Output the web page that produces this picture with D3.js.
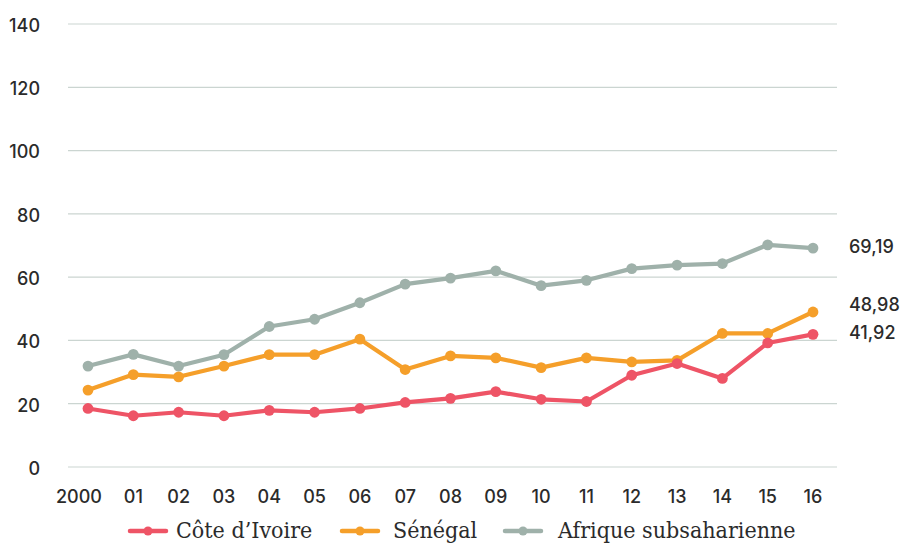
<!DOCTYPE html>
<html>
<head>
<meta charset="utf-8">
<script src="https://cdn.jsdelivr.net/npm/d3@7"></script>
<style>
  html, body { margin: 0; padding: 0; background: #fff; }
  svg { display: block; }
  .ytick, .xtick, .endlabel { font-family: Inter, "Open Sans", sans-serif; font-size: 18px; font-weight: 500; fill: #2b2b2b; }
  .legend { font-family: "DejaVu Serif Condensed", "DejaVu Serif", serif; font-stretch: condensed; font-size: 23px; fill: #2b2b2b; }
</style>
</head>
<body>
<svg id="chart" width="900" height="545"></svg>
<script>
// Years on the x axis and their printed labels
const years = [2000, 2001, 2002, 2003, 2004, 2005, 2006, 2007, 2008, 2009, 2010, 2011, 2012, 2013, 2014, 2015, 2016];
const yearLabels = ["2000", "01", "02", "03", "04", "05", "06", "07", "08", "09", "10", "11", "12", "13", "14", "15", "16"];
const yTicks = [0, 20, 40, 60, 80, 100, 120, 140];

// Series values
const coteDIvoire = [18.5, 16.2, 17.3, 16.2, 17.9, 17.3, 18.5, 20.4, 21.7, 23.8, 21.4, 20.7, 29.0, 32.7, 28.0, 39.2, 41.92];
const senegal = [24.3, 29.2, 28.5, 31.9, 35.5, 35.5, 40.4, 30.8, 35.1, 34.5, 31.4, 34.5, 33.2, 33.7, 42.2, 42.2, 48.98];
const afriqueSub = [31.9, 35.6, 31.9, 35.5, 44.4, 46.7, 51.9, 57.8, 59.7, 62.0, 57.3, 59.0, 62.7, 63.8, 64.3, 70.2, 69.19];

const seriesNames = ["Côte d’Ivoire", "Sénégal", "Afrique subsaharienne"];
const seriesColors = ["#ee5466", "#f59f2a", "#9fb1aa"];
const endLabels = ["41,92", "48,98", "69,19"];

const series = [coteDIvoire, senegal, afriqueSub].map((values, i) => ({
  name: seriesNames[i], color: seriesColors[i], label: endLabels[i], values
}));

const svg = d3.select("#chart");

const x = d3.scaleLinear().domain([2000, 2016]).range([88, 813]);
const y = d3.scaleLinear().domain([0, 140]).range([467, 24]);

// Horizontal gridlines
svg.append("g").selectAll("line").data(yTicks).join("line")
  .attr("x1", 68).attr("x2", 837)
  .attr("y1", d => y(d)).attr("y2", d => y(d))
  .attr("stroke", "#cbd5d1").attr("stroke-width", 1.2);

// Y tick labels
svg.append("g").selectAll("text").data(yTicks).join("text")
  .attr("class", "ytick")
  .attr("x", 40).attr("y", d => y(d) + 1.5)
  .attr("dy", "0.35em").attr("text-anchor", "end")
  .text(d => d);

// X tick labels (the full year is pulled left so it clears the next label)
svg.append("g").selectAll("text").data(years).join("text")
  .attr("class", "xtick")
  .attr("x", (d, i) => x(d) - (i === 0 ? 9 : 0)).attr("y", 496.5)
  .attr("dy", "0.35em")
  .attr("text-anchor", "middle")
  .text((d, i) => yearLabels[i]);

const line = d3.line().x((d, i) => x(years[i])).y(d => y(d));

// Lines and markers, grey first so the country lines sit on top
const drawOrder = [series[2], series[1], series[0]];
const g = svg.append("g");
drawOrder.forEach(s => {
  g.append("path").datum(s.values)
    .attr("fill", "none").attr("stroke", s.color)
    .attr("stroke-width", 4.2).attr("stroke-linejoin", "round")
    .attr("d", line);
  g.append("g").selectAll("circle").data(s.values).join("circle")
    .attr("cx", (d, i) => x(years[i])).attr("cy", d => y(d))
    .attr("r", 5.4).attr("fill", s.color);
});

// End-of-line value labels; a label too close to the one below moves up
const last = years.length - 1;
const labelPos = series.map(s => ({ s, y: y(s.values[last]) - 1.5 }))
  .sort((a, b) => b.y - a.y);
for (let i = 1; i < labelPos.length; i++) {
  const limit = labelPos[i - 1].y - 28;
  if (labelPos[i].y > limit) labelPos[i].y = limit;
}
svg.append("g").selectAll("text").data(labelPos).join("text")
  .attr("class", "endlabel")
  .attr("x", 849).attr("y", d => d.y)
  .attr("dy", "0.35em")
  .text(d => d.s.label);

// Legend
const legendX = [128, 340, 503];
const legend = svg.append("g");
series.forEach((s, i) => {
  const lx = legendX[i];
  legend.append("line")
    .attr("x1", lx + 2).attr("x2", lx + 38)
    .attr("y1", 531).attr("y2", 531)
    .attr("stroke", s.color).attr("stroke-width", 4.5).attr("stroke-linecap", "round");
  legend.append("circle").attr("cx", lx + 20).attr("cy", 531).attr("r", 4.5).attr("fill", s.color);
  legend.append("text").attr("class", "legend")
    .attr("x", lx + (i === 0 ? 48 : i === 1 ? 53 : 55)).attr("y", 530).attr("dy", "0.35em")
    .text(s.name);
});
</script>
</body>
</html>
